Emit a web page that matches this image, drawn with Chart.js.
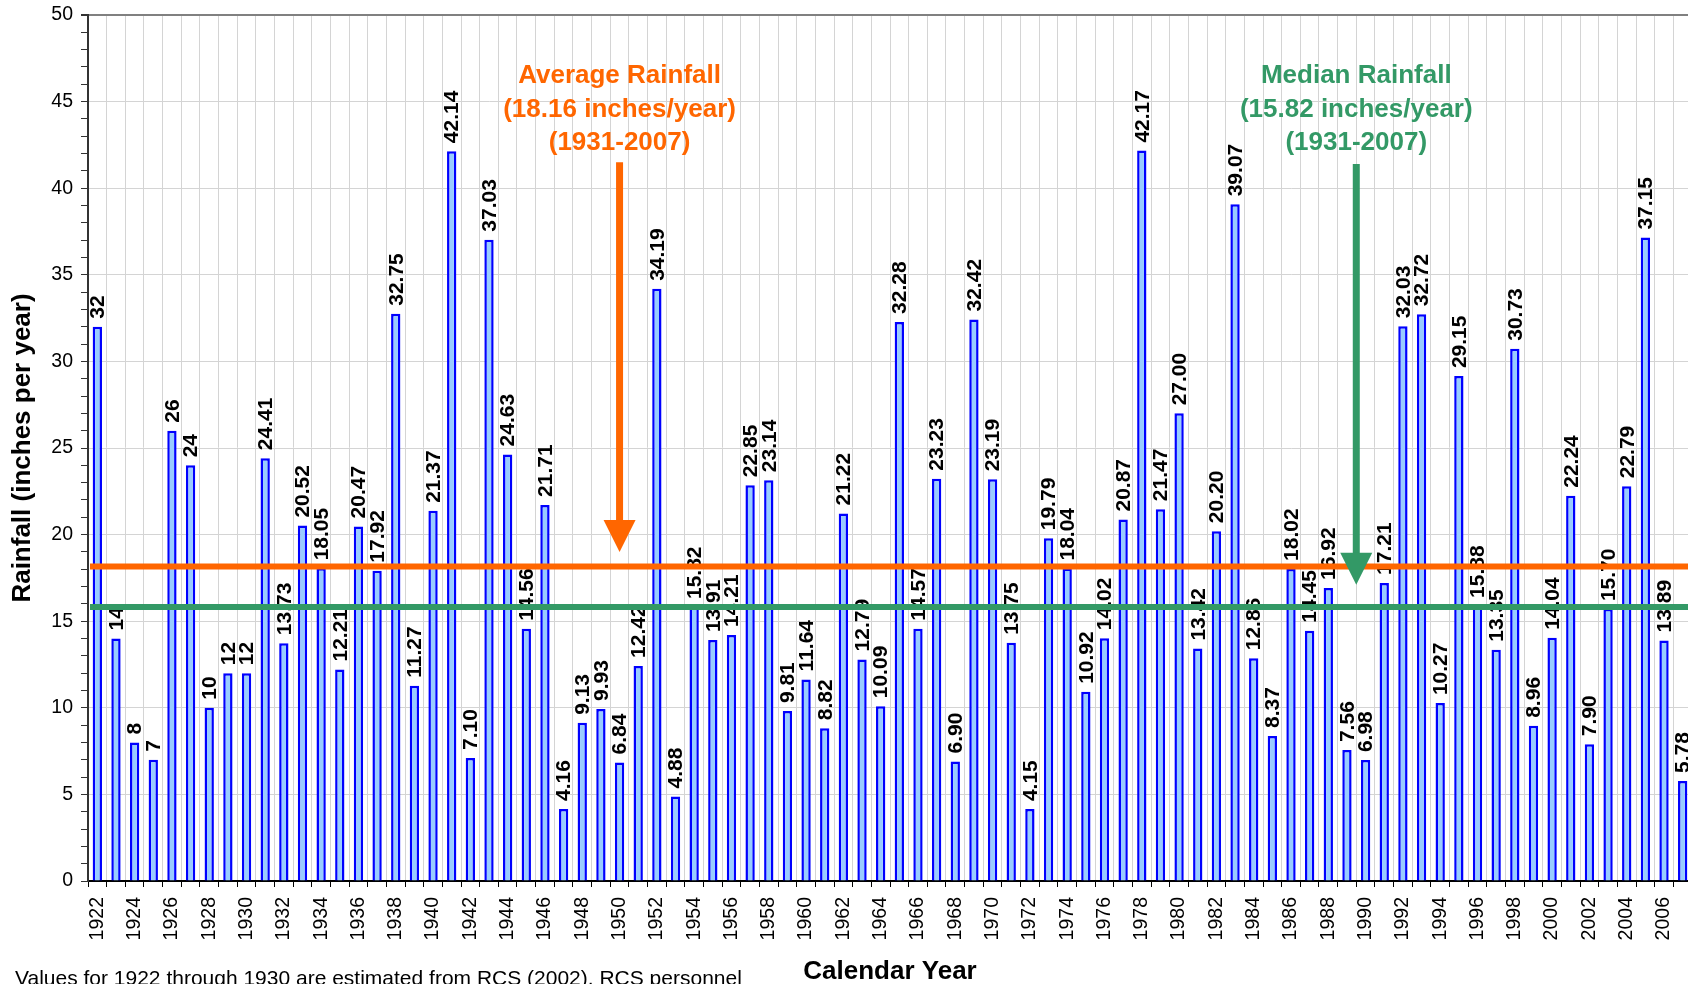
<!DOCTYPE html>
<html>
<head>
<meta charset="utf-8">
<title>Rainfall 1922-2007</title>
<script src="https://cdn.jsdelivr.net/npm/chart.js@4.4.0/dist/chart.umd.min.js"></script>
<style>
html, body { margin: 0; padding: 0; background: #fff; overflow: hidden; }
#wrap { position: relative; width: 1696px; height: 984px; }
</style>
</head>
<body>
<div id="wrap"><canvas id="myChart"></canvas></div>
<script>
// categories
var years = ['1922', '1923', '1924', '1925', '1926', '1927', '1928', '1929', '1930',
  '1931', '1932', '1933', '1934', '1935', '1936', '1937', '1938', '1939', '1940',
  '1941', '1942', '1943', '1944', '1945', '1946', '1947', '1948', '1949', '1950',
  '1951', '1952', '1953', '1954', '1955', '1956', '1957', '1958', '1959', '1960',
  '1961', '1962', '1963', '1964', '1965', '1966', '1967', '1968', '1969', '1970',
  '1971', '1972', '1973', '1974', '1975', '1976', '1977', '1978', '1979', '1980',
  '1981', '1982', '1983', '1984', '1985', '1986', '1987', '1988', '1989', '1990',
  '1991', '1992', '1993', '1994', '1995', '1996', '1997', '1998', '1999', '2000',
  '2001', '2002', '2003', '2004', '2005', '2006', '2007']

// rainfall, inches per year (1922-1930 estimated)
var rainfall = [32, 14, 8, 7, 26, 24, 10, 12, 12,
  24.41, 13.73, 20.52, 18.05, 12.21, 20.47, 17.92, 32.75, 11.27, 21.37,
  42.14, 7.10, 37.03, 24.63, 14.56, 21.71, 4.16, 9.13, 9.93, 6.84,
  12.42, 34.19, 4.88, 15.82, 13.91, 14.21, 22.85, 23.14, 9.81, 11.64,
  8.82, 21.22, 12.79, 10.09, 32.28, 14.57, 23.23, 6.90, 32.42, 23.19,
  13.75, 4.15, 19.79, 18.04, 10.92, 14.02, 20.87, 42.17, 21.47, 27.00,
  13.42, 20.20, 39.07, 12.86, 8.37, 18.02, 14.45, 16.92, 7.56, 6.98,
  17.21, 32.03, 32.72, 10.27, 29.15, 15.88, 13.35, 30.73, 8.96, 14.04,
  22.24, 7.90, 15.70, 22.79, 37.15, 13.89, 5.78]

var estimatedThrough = '1930'

var averageRainfall = 18.16
var medianRainfall = 15.82

// tick labels
var yTickLabels = [0, 5, 10, 15, 20, 25, 30, 35, 40, 45, 50]
var xTickLabels = ['1922', '1924', '1926', '1928', '1930', '1932', '1934', '1936', '1938', '1940',
  '1942', '1944', '1946', '1948', '1950', '1952', '1954', '1956', '1958', '1960',
  '1962', '1964', '1966', '1968', '1970', '1972', '1974', '1976', '1978', '1980',
  '1982', '1984', '1986', '1988', '1990', '1992', '1994', '1996', '1998', '2000',
  '2002', '2004', '2006']

var FONT = '"Liberation Sans", Arial, sans-serif'
var ORANGE = '#ff6600'
var GREEN = '#339966'

Chart.defaults.font.family = FONT

function labelText(i) {
  var v = rainfall[i]
  if (years[i] <= estimatedThrough) return String(v)
  return v.toFixed(2)
}

// value labels above each bar, rotated
var barLabels = {
  id: 'barLabels',
  afterDatasetsDraw: function (chart) {
    var ctx = chart.ctx
    var meta = chart.getDatasetMeta(0)
    ctx.save()
    ctx.font = 'bold 21px ' + FONT
    ctx.fillStyle = '#000'
    ctx.textAlign = 'left'
    ctx.textBaseline = 'middle'
    meta.data.forEach(function (bar, i) {
      ctx.save()
      ctx.translate(bar.x + 1, bar.y - 8)
      ctx.rotate(-Math.PI / 2)
      ctx.fillText(labelText(i), 0, 0)
      ctx.restore()
    })
    ctx.restore()
  }
}

function drawArrow(ctx, x, yTop, yTip, color) {
  ctx.strokeStyle = color
  ctx.lineWidth = 7
  ctx.beginPath()
  ctx.moveTo(x, yTop)
  ctx.lineTo(x, yTip - 30)
  ctx.stroke()
  ctx.fillStyle = color
  ctx.beginPath()
  ctx.moveTo(x - 16, yTip - 32)
  ctx.lineTo(x + 16, yTip - 32)
  ctx.lineTo(x, yTip)
  ctx.closePath()
  ctx.fill()
}

function drawNote(ctx, x, top, lines, color) {
  ctx.font = 'bold 26px ' + FONT
  ctx.fillStyle = color
  ctx.textAlign = 'center'
  ctx.textBaseline = 'alphabetic'
  lines.forEach(function (t, i) {
    ctx.fillText(t, x, top + i * 33.5)
  })
}

// average / median lines, arrows, notes, axis titles, footnote
var overlay = {
  id: 'overlay',
  afterDraw: function (chart) {
    var ctx = chart.ctx
    var area = chart.chartArea
    var xs = chart.scales.x
    var ys = chart.scales.y
    ctx.save()

    ctx.lineWidth = 6
    ctx.strokeStyle = ORANGE
    ctx.beginPath()
    ctx.moveTo(area.left + 2, ys.getPixelForValue(averageRainfall))
    ctx.lineTo(area.right, ys.getPixelForValue(averageRainfall))
    ctx.stroke()
    ctx.strokeStyle = GREEN
    ctx.beginPath()
    ctx.moveTo(area.left + 2, ys.getPixelForValue(medianRainfall))
    ctx.lineTo(area.right, ys.getPixelForValue(medianRainfall))
    ctx.stroke()

    var avgX = xs.getPixelForValue(years.indexOf('1950'))
    var medX = (xs.getPixelForValue(years.indexOf('1989')) + xs.getPixelForValue(years.indexOf('1990'))) / 2
    drawArrow(ctx, avgX, ys.getPixelForValue(41.5), ys.getPixelForValue(19.0), ORANGE)
    drawArrow(ctx, medX, ys.getPixelForValue(41.4), ys.getPixelForValue(17.1), GREEN)

    drawNote(ctx, avgX, area.top + 68, ['Average Rainfall', '(18.16 inches/year)', '(1931-2007)'], ORANGE)
    drawNote(ctx, medX, area.top + 68, ['Median Rainfall', '(15.82 inches/year)', '(1931-2007)'], GREEN)

    ctx.fillStyle = '#000'
    ctx.font = 'bold 26px ' + FONT
    ctx.textAlign = 'center'
    ctx.textBaseline = 'middle'
    ctx.save()
    ctx.translate(23, (area.top + area.bottom) / 2)
    ctx.rotate(-Math.PI / 2)
    ctx.fillText('Rainfall (inches per year)', 0, 0)
    ctx.restore()

    ctx.textBaseline = 'alphabetic'
    ctx.fillText('Calendar Year', 890, 979)

    ctx.font = '21px ' + FONT
    ctx.textAlign = 'left'
    ctx.fillText('Values for 1922 through 1930 are estimated from RCS (2002). RCS personnel', 15, 985)
    ctx.restore()
  }
}

var ctx = document.getElementById('myChart')

new Chart(ctx, {
  type: 'bar',
  data: {
    labels: years,
    datasets: [{
      label: 'Rainfall',
      data: rainfall,
      backgroundColor: '#99ccff',
      borderColor: '#0000ff',
      borderWidth: 2.5,
      categoryPercentage: 1,
      barPercentage: 0.5
    }]
  },
  options: {
    responsive: true,
    maintainAspectRatio: false,
    animation: false,
    layout: { padding: { top: 15, left: 0, right: 4, bottom: 0 } },
    plugins: {
      legend: { display: false },
      tooltip: { enabled: false }
    },
    scales: {
      x: {
        ticks: {
          autoSkip: false,
          minRotation: 90,
          maxRotation: 90,
          padding: 10,
          color: '#000',
          font: { size: 19.5 },
          callback: function (val, i) {
            return xTickLabels.indexOf(years[i]) >= 0 ? years[i] : ''
          }
        },
        grid: { offset: true, color: '#d4d4d4', lineWidth: 1, tickLength: 6, tickColor: '#000' },
        border: { color: '#000', width: 2 },
        afterFit: function (scale) {
          scale.height = 103
          scale.paddingLeft = 0
          scale.paddingRight = 0
        }
      },
      y: {
        min: 0,
        max: 50,
        ticks: {
          stepSize: 1,
          autoSkip: false,
          maxTicksLimit: 60,
          padding: 8,
          color: '#000',
          font: { size: 19.5 },
          callback: function (v) {
            return yTickLabels.indexOf(v) >= 0 ? String(v) : ''
          }
        },
        grid: {
          color: function (c) {
            if (c.tick.value === 50) return '#808080'
            return c.tick.value % 5 === 0 ? '#d4d4d4' : 'rgba(0,0,0,0)'
          },
          lineWidth: function (c) { return c.tick.value === 50 ? 2 : 1 },
          tickLength: 7,
          tickColor: '#333'
        },
        border: { color: '#333', width: 2 },
        afterFit: function (scale) {
          scale.width = 88
          scale.paddingTop = 0
          scale.paddingBottom = 0
        }
      }
    }
  },
  plugins: [barLabels, overlay]
})
</script>
</body>
</html>
